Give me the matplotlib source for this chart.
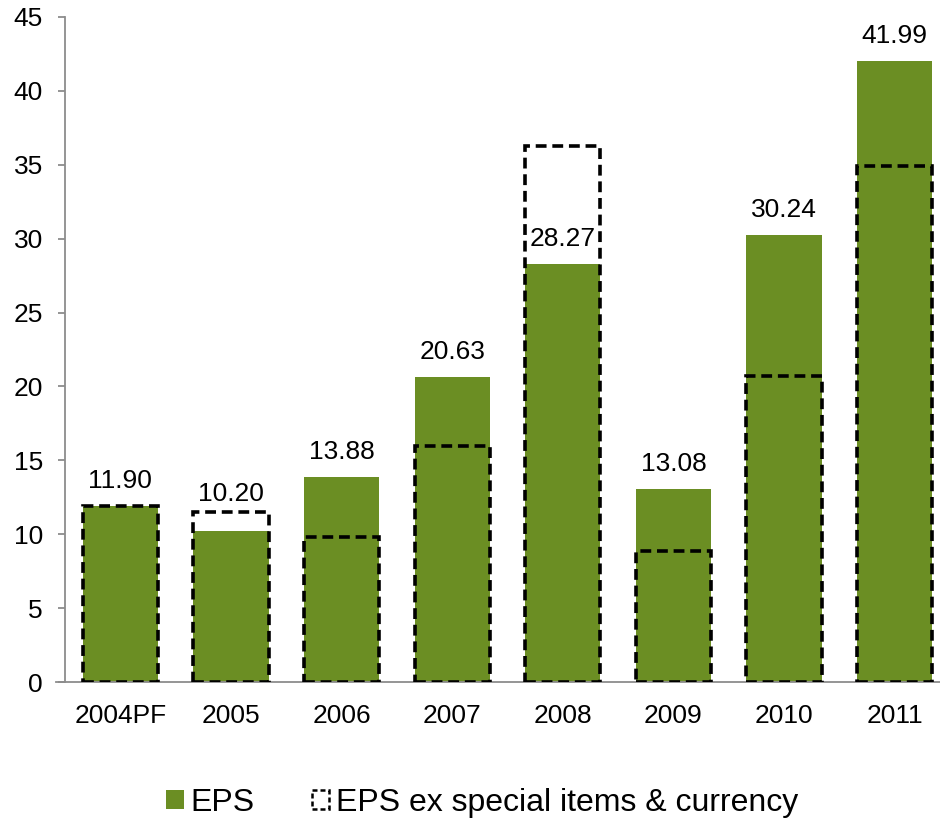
import matplotlib.pyplot as plt
import matplotlib.patches as mpatches
import numpy as np

plt.rcParams['font.family'] = ['Liberation Sans', 'DejaVu Sans']

# earnings per share by year, reported vs. ex special items & currency
years = ['2004PF', '2005', '2006', '2007', '2008', '2009', '2010', '2011']
eps = [11.90, 10.20, 13.88, 20.63, 28.27, 13.08, 30.24, 41.99]
eps_ex = [11.90, 11.50, 9.80, 15.95, 36.25, 8.85, 20.70, 34.95]

GREEN = '#6b8e23'
GREY = '#8c8c8c'

fig = plt.figure(figsize=(9.4, 8.23), dpi=100)
ax = fig.add_axes([65 / 940, 141 / 823, 885 / 940, 665 / 823])

x = np.arange(len(years))
w = 0.68
ax.bar(x, eps, width=w, color=GREEN, zorder=2)
ax.bar(x, eps_ex, width=w, fill=False, edgecolor='black', linewidth=2.6,
       linestyle=(0, (3.0, 1.6)), zorder=3)

# value labels sit above the green bar, or above the dashed box when it is just above
for xi, v, vx in zip(x, eps, eps_ex):
    top = vx if 0 < vx - v < 2 else v
    off = 8 if top == vx and vx != v else 13
    ax.annotate(f'{v:.2f}', (xi, top), xytext=(0, off), textcoords='offset points',
                ha='center', va='baseline', fontsize=19)

ax.set_xlim(-0.5, 7.5)
ax.set_ylim(0, 45)
ax.set_yticks(range(0, 46, 5))
ax.set_xticks(x)
ax.set_xticklabels(years)

for s in ['top', 'right']:
    ax.spines[s].set_visible(False)
ax.spines['left'].set_color(GREY)
ax.spines['bottom'].set_color(GREY)
ax.spines['left'].set_linewidth(1.3)
ax.spines['bottom'].set_linewidth(1.3)
ax.spines['bottom'].set_bounds(-0.58, 7.5)
ax.tick_params(axis='y', length=5, width=1.3, color=GREY, pad=11, labelsize=19)
ax.tick_params(axis='x', length=0, pad=16, labelsize=19)

handles = [mpatches.Patch(facecolor=GREEN, edgecolor='none', label='EPS'),
           mpatches.Patch(facecolor='none', edgecolor='black', linewidth=1.8,
                          linestyle=(0, (2, 1.2)),
                          label='EPS ex special items & currency')]
fig.legend(handles=handles, loc='center', bbox_to_anchor=(0.513, 20 / 823),
           ncol=2, frameon=False, fontsize=23, handlelength=0.55, handleheight=0.55,
           handletextpad=0.2, columnspacing=1.8, borderaxespad=0)

fig.savefig('out.png', dpi=100)
